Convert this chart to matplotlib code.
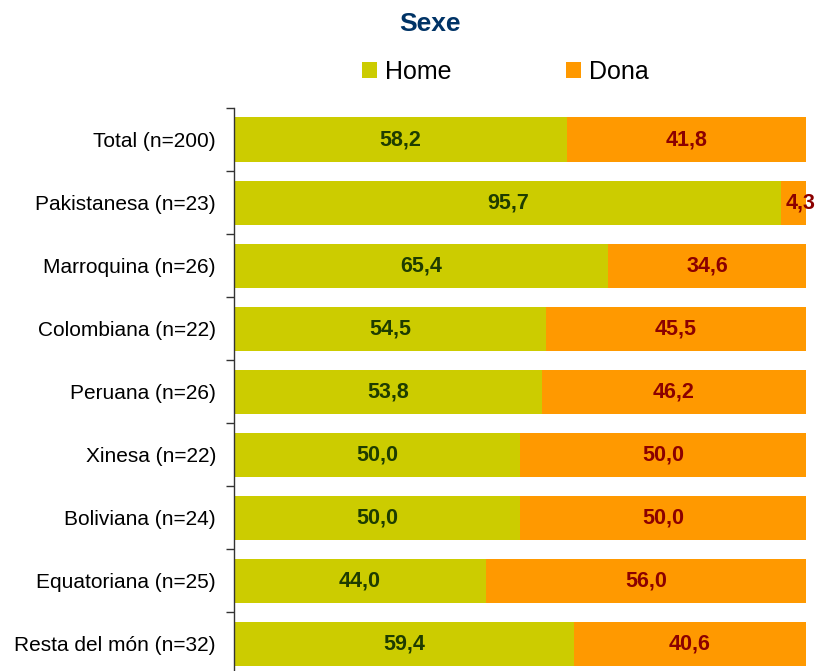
import matplotlib
matplotlib.use("Agg")
import matplotlib.pyplot as plt
from matplotlib.patches import Patch
import numpy as np

plt.rcParams['font.family'] = ['Liberation Sans', 'DejaVu Sans']

categories = ["Total (n=200)", "Pakistanesa (n=23)", "Marroquina (n=26)", "Colombiana (n=22)",
              "Peruana (n=26)", "Xinesa (n=22)", "Boliviana (n=24)", "Equatoriana (n=25)",
              "Resta del món (n=32)"]
home = [58.2, 95.7, 65.4, 54.5, 53.8, 50.0, 50.0, 44.0, 59.4]
dona = [41.8, 4.3, 34.6, 45.5, 46.2, 50.0, 50.0, 56.0, 40.6]
series_names = ["Home", "Dona"]

c_home = "#CCCC00"
c_dona = "#FF9900"

fig = plt.figure(figsize=(8.16, 6.71), dpi=100)
W, H = 816, 671
left, right, top, bottom = 234, 806, 108, 675.5
ax = fig.add_axes([left / W, 1 - bottom / H, (right - left) / W, (bottom - top) / H])

n = len(categories)
y = np.arange(n)
bh = 0.70
ax.barh(y, home, height=bh, color=c_home, edgecolor='none')
ax.barh(y, dona, left=home, height=bh, color=c_dona, edgecolor='none')

def fmt(v):
    return f"{v:.1f}".replace('.', ',')

for i in range(n):
    ax.text(home[i] / 2, y[i], fmt(home[i]), ha='center', va='center',
            fontsize=15.5, fontweight='bold', color='#1E3C00')
    xo = home[i] + dona[i] / 2
    if dona[i] < 8:
        xo = home[i] + dona[i] / 2 + 1.2
    ax.text(xo, y[i], fmt(dona[i]), ha='center', va='center',
            fontsize=15.5, fontweight='bold', color='#8B0000', clip_on=False)

ax.set_xlim(0, 100)
ax.set_ylim(n - 0.5, -0.5)
ax.set_yticks(y)
ax.set_yticklabels(categories, fontsize=15)
ax.set_yticks(np.arange(n + 1) - 0.5, minor=True)
ax.tick_params(axis='y', which='major', length=0, pad=13)
ax.tick_params(axis='y', which='minor', length=6, width=1, color='#333333', direction='out')
ax.set_xticks([])
for s in ['top', 'right', 'bottom']:
    ax.spines[s].set_visible(False)
ax.spines['left'].set_color('#333333')
ax.spines['left'].set_linewidth(1)

fig.text(430 / W, 1 - 24 / H, "Sexe", ha='center', va='center', fontsize=19,
         fontweight='bold', color='#003366')

handles = [Patch(facecolor=c_home, edgecolor='none'), Patch(facecolor=c_dona, edgecolor='none')]
fig.legend(handles, series_names, loc='center', bbox_to_anchor=(505.5 / W, 1 - 72 / H),
           ncol=2, frameon=False, fontsize=18, handlelength=0.6, handleheight=0.6,
           handletextpad=0.32, columnspacing=4.6, borderpad=0)

fig.savefig("out.png", dpi=100)
